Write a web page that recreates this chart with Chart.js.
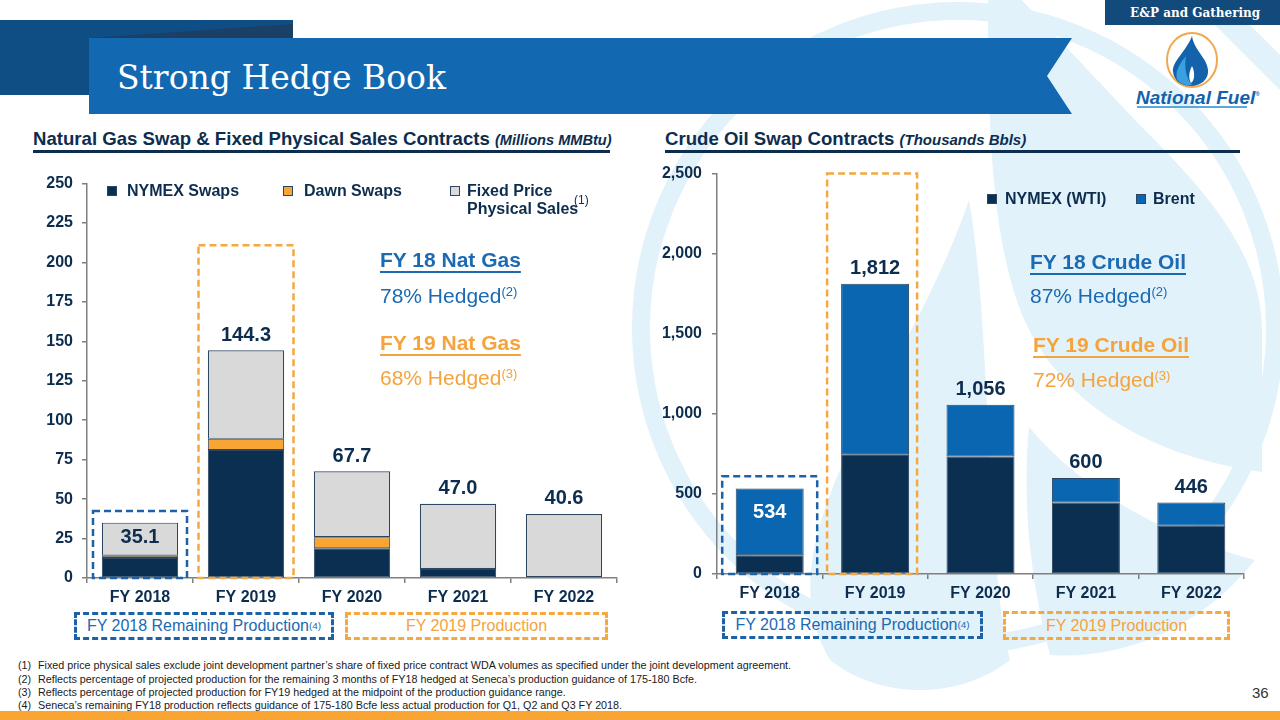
<!DOCTYPE html>
<html><head><meta charset="utf-8">
<script src="https://cdn.jsdelivr.net/npm/chart.js@4"></script>
<style>
html,body{margin:0;padding:0;}
body{width:1280px;height:720px;position:relative;overflow:hidden;background:#fff;font-family:'Liberation Sans',Arial,sans-serif;}
.abs{position:absolute;white-space:nowrap;}
.mid{transform:translateY(-50%);}
.head{font-weight:bold;font-size:18.6px;color:#0d2d4f;}
.head i{font-size:14.6px;}
.rule{position:absolute;height:3px;background:#0d2d4f;}
.leg{font-weight:bold;font-size:16px;color:#0d2d4f;}
.sw{position:absolute;width:10px;height:10px;box-sizing:border-box;border:1px solid #2d4662;}
.ann{font-size:21px;}
.annb{font-weight:bold;text-decoration:underline;text-decoration-thickness:2px;text-underline-offset:4px;}
sup{font-size:0.62em;vertical-align:0.55em;line-height:0;}
.blue{color:#1b6ab2;}
.orange{color:#f5a33c;}
.box{position:absolute;box-sizing:border-box;border:3px dashed;display:flex;align-items:center;justify-content:center;font-size:16px;white-space:nowrap;}
.bbox{border-color:#1b62a6;color:#1b6ab2;}
.obox{border-color:#f5a83f;color:#f5a33c;}
.fn{font-size:10.75px;color:#1a1a1a;}
canvas{position:absolute;}
</style></head><body>
<svg class="abs" style="left:0;top:0" width="1280" height="720">
  <!-- watermark -->
  <circle cx="958" cy="328" r="317" fill="none" stroke="#e2f2fa" stroke-width="18"/>
  <path d="M988 -5 L 1017 -5 L 1135 120 C 1200 185, 1262 250, 1262 330 L 1262 472 C 1120 452, 1045 380, 1018 304 C 992 230, 988 130, 988 -5 Z" fill="#e2f2fa"/>
  <polygon points="1215,25 1250,25 1280,55 1280,90" fill="#e2f2fa"/>
  <path d="M969 200 C 935 300, 880 380, 840 470 C 805 550, 800 610, 830 660 C 880 700, 960 700, 1010 660 C 985 560, 992 330, 969 200 Z" fill="#e2f2fa"/>
  <path d="M1029 427 C 1022 500, 1030 580, 1050 655 C 1120 660, 1200 630, 1255 560 C 1180 540, 1090 500, 1029 427 Z" fill="#e2f2fa"/>
  <!-- header -->
  <rect x="0" y="20" width="293" height="75" fill="#0f4e85"/>
  <polygon points="89,38 293,24 293,38" fill="#1c3f66"/>
  <polygon points="89,38 1072,38 1047,76 1072,114 89,114" fill="#1268b1"/>
  <rect x="1105" y="0" width="175" height="25" fill="#134a7c"/>
  <!-- logo -->
  <ellipse cx="1192" cy="60" rx="25" ry="27" fill="#fff" stroke="#f0a850" stroke-width="2"/>
  <path d="M1192 36 C 1186 52, 1172 61, 1173 72 C 1174 81, 1182 86, 1191 86 C 1201 86, 1209 79, 1208 70 C 1207 58, 1194 50, 1192 36 Z" fill="#1462ac"/>
  <path d="M1186 56 C 1179 64, 1175 72, 1177 79 C 1180 84, 1186 86, 1192 85 C 1186 78, 1184 67, 1186 56 Z" fill="#3aa0e0"/>
  <path d="M1192 66 C 1189 72, 1188 78, 1191 83 C 1195 80, 1195 72, 1192 66 Z" fill="#fff"/>
  <rect x="1137" y="106" width="110" height="2" fill="#5aa8dc"/>
  <rect x="0" y="711" width="1280" height="9" fill="#f9a533"/>
</svg>

<div class="abs mid" style="left:117px;top:77px;font-family:'DejaVu Serif',serif;font-size:33px;color:#fff;">Strong Hedge Book</div>
<div class="abs mid" style="left:1130px;top:13px;font-family:'DejaVu Serif',serif;font-weight:bold;font-size:12px;color:#fff;">E&amp;P and Gathering</div>
<div class="abs mid" style="left:1136px;top:98px;font-weight:bold;font-style:italic;font-size:19px;color:#1462ac;">National Fuel<span style="font-size:6px;vertical-align:8px;">®</span></div>

<div class="abs mid head" style="left:33px;top:139px;">Natural Gas Swap &amp; Fixed Physical Sales Contracts <i>(Millions MMBtu)</i></div>
<div class="rule" style="left:33px;top:150px;width:577px;"></div>
<div class="abs mid head" style="left:665px;top:139px;">Crude Oil Swap Contracts <i style="font-size:15px;">(Thousands Bbls)</i></div>
<div class="rule" style="left:665px;top:150px;width:575px;"></div>

<canvas id="gas" width="600" height="446" style="left:30px;top:165px;"></canvas>
<canvas id="oil" width="600" height="446" style="left:650px;top:154px;"></canvas>

<!-- left legend -->
<div class="sw" style="left:107px;top:186px;background:#0b2f50;"></div>
<div class="abs mid leg" style="left:127px;top:191px;">NYMEX Swaps</div>
<div class="sw" style="left:283px;top:186px;background:#f9a533;"></div>
<div class="abs mid leg" style="left:304px;top:191px;">Dawn Swaps</div>
<div class="sw" style="left:450px;top:186px;background:#d9d9d9;"></div>
<div class="abs mid leg" style="left:467px;top:191px;">Fixed Price</div>
<div class="abs mid leg" style="left:467px;top:209px;">Physical Sales</div>
<div class="abs mid" style="left:574px;top:200px;font-size:12px;color:#0d2d4f;">(1)</div>
<!-- right legend -->
<div class="sw" style="left:987px;top:194px;background:#0b2f50;"></div>
<div class="abs mid leg" style="left:1005px;top:199px;">NYMEX (WTI)</div>
<div class="sw" style="left:1136px;top:194px;background:#0a66b0;"></div>
<div class="abs mid leg" style="left:1153px;top:199px;">Brent</div>

<!-- annotations -->
<div class="abs mid ann annb blue" style="left:380px;top:260px;">FY 18 Nat Gas</div>
<div class="abs mid ann blue" style="left:380px;top:296px;">78% Hedged<sup>(2)</sup></div>
<div class="abs mid ann annb orange" style="left:380px;top:343px;">FY 19 Nat Gas</div>
<div class="abs mid ann orange" style="left:380px;top:378px;">68% Hedged<sup>(3)</sup></div>
<div class="abs mid ann annb blue" style="left:1030px;top:262px;">FY 18 Crude Oil</div>
<div class="abs mid ann blue" style="left:1030px;top:296px;">87% Hedged<sup>(2)</sup></div>
<div class="abs mid ann annb orange" style="left:1033px;top:345px;">FY 19 Crude Oil</div>
<div class="abs mid ann orange" style="left:1033px;top:380px;">72% Hedged<sup>(3)</sup></div>

<!-- bottom boxes -->
<div class="box bbox" style="left:74px;top:612px;width:260px;height:28px;">FY 2018 Remaining Production<sup>(4)</sup></div>
<div class="box obox" style="left:345px;top:612px;width:263px;height:28px;">FY 2019 Production</div>
<div class="box bbox" style="left:722px;top:611px;width:261px;height:28px;">FY 2018 Remaining Production<sup>(4)</sup></div>
<div class="box obox" style="left:1003px;top:611px;width:227px;height:29px;">FY 2019 Production</div>

<!-- footnotes -->
<div class="abs mid fn" style="left:18px;top:665px;">(1)</div>
<div class="abs mid fn" style="left:38px;top:665px;">Fixed price physical sales exclude joint development partner’s share of fixed price contract WDA volumes as specified under the joint development agreement.</div>
<div class="abs mid fn" style="left:18px;top:679px;">(2)</div>
<div class="abs mid fn" style="left:38px;top:679px;">Reflects percentage of projected production for the remaining 3 months of FY18 hedged at Seneca’s production guidance of 175-180 Bcfe.</div>
<div class="abs mid fn" style="left:18px;top:692px;">(3)</div>
<div class="abs mid fn" style="left:38px;top:692px;">Reflects percentage of projected production for FY19 hedged at the midpoint of the production guidance range.</div>
<div class="abs mid fn" style="left:18px;top:705px;">(4)</div>
<div class="abs mid fn" style="left:38px;top:705px;">Seneca’s remaining FY18 production reflects guidance of 175-180 Bcfe less actual production for Q1, Q2 and Q3 FY 2018.</div>
<div class="abs mid" style="left:1252px;top:692px;font-size:15px;color:#333;">36</div>

<script>
// ---- data ----
const categories = ['FY 2018', 'FY 2019', 'FY 2020', 'FY 2021', 'FY 2022'];
const gasNymex = [12.6, 81.2, 18.8, 5.7, 0];
const gasDawn  = [1.5, 7.0, 7.0, 0, 0];
const gasFixed = [21.0, 56.1, 41.9, 41.3, 40.6];
const gasTotalLabels = ['35.1', '144.3', '67.7', '47.0', '40.6'];
const gasTicks = [0, 25, 50, 75, 100, 125, 150, 175, 200, 225, 250];
const oilWti   = [117, 747, 734, 447, 301];
const oilBrent = [417, 1065, 322, 153, 145];
const oilTotalLabels = ['534', '1,812', '1,056', '600', '446'];
const oilTicks = [0, 500, 1000, 1500, 2000, 2500];

const FONT = "'Liberation Sans', Arial, sans-serif";
const NAVY = '#0b2f50', TXT = '#0d2d4f', AXIS = '#7f7f7f', EDGE = '#2d4662';
const bw = w => (c => (c.raw === 0 ? 0 : w));

function valueLabels(labels, insideFirst, insideColor, insideOffset) {
  return {
    id: 'vl',
    afterDatasetsDraw(chart) {
      const c = chart.ctx; const n = chart.data.datasets.length;
      const y = chart.scales.y;
      c.save();
      c.font = 'bold 20px ' + FONT; c.textAlign = 'center'; c.textBaseline = 'middle';
      labels.forEach((t, i) => {
        let sum = 0; chart.data.datasets.forEach(d => sum += d.data[i]);
        const meta = chart.getDatasetMeta(n - 1).data[i];
        const top = y.getPixelForValue(sum);
        if (i === 0 && insideFirst) { c.fillStyle = insideColor; c.fillText(t, meta.x, top + insideOffset); }
        else { c.fillStyle = TXT; c.fillText(t, meta.x, top - 15); }
      });
      c.restore();
    }
  };
}
function dashedBoxes(boxes) {
  return {
    id: 'db',
    afterDatasetsDraw(chart) {
      const c = chart.ctx; const x = chart.scales.x, y = chart.scales.y;
      c.save(); c.lineWidth = 2.5; c.setLineDash([7, 4]);
      boxes.forEach(b => {
        const cx = x.getPixelForValue(b.idx) + (b.dx || 0);
        const top = b.top === 'area' ? chart.chartArea.top : y.getPixelForValue(b.top);
        const bot = y.getPixelForValue(0);
        c.strokeStyle = b.color;
        c.strokeRect(cx - b.half, top, b.half * 2, bot - top);
      });
      c.restore();
    }
  };
}
function axes(ticks, yw, xh, yPad, fmt) {
  return {
    x: { stacked: true,
      grid: { display: true, drawOnChartArea: false, drawTicks: true, tickLength: 5, color: AXIS, lineWidth: 1.5, offset: true },
      border: { color: AXIS, width: 1.5 },
      ticks: { font: { family: FONT, size: 16, weight: 'bold' }, color: TXT, padding: 5 },
      afterFit(s) { s.height = xh; } },
    y: { stacked: true, min: ticks[0], max: ticks[ticks.length - 1],
      afterBuildTicks(s) { s.ticks = ticks.map(v => ({ value: v })); },
      grid: { drawOnChartArea: false, drawTicks: true, tickLength: 5, color: AXIS, lineWidth: 1.5 },
      border: { color: AXIS, width: 1.5 },
      ticks: { font: { family: FONT, size: 16, weight: 'bold' }, color: TXT, padding: yPad, callback: fmt },
      afterFit(s) { s.width = yw; } }
  };
}

new Chart(document.getElementById('gas'), {
  type: 'bar',
  data: { labels: categories, datasets: [
    { label: 'NYMEX Swaps', data: gasNymex, backgroundColor: NAVY, borderColor: EDGE, borderWidth: bw(1), borderSkipped: false },
    { label: 'Dawn Swaps', data: gasDawn, backgroundColor: '#f9a533', borderColor: EDGE, borderWidth: bw(1), borderSkipped: false },
    { label: 'Fixed Price Physical Sales', data: gasFixed, backgroundColor: '#d9d9d9', borderColor: EDGE, borderWidth: bw(1.2), borderSkipped: false }
  ]},
  options: {
    responsive: false, animation: false,
    categoryPercentage: 1, barPercentage: 0.72,
    layout: { padding: { left: 0, right: 13, top: 0, bottom: 0 } },
    plugins: { legend: { display: false }, tooltip: { enabled: false } },
    scales: axes(gasTicks, 57, 33, 9, v => v)
  },
  plugins: [dashedBoxes([
    { idx: 0, half: 47, top: 42.5, color: '#1b62a6' },
    { idx: 1, half: 47.5, top: 211, color: '#f5a83f' }
  ]), valueLabels(gasTotalLabels, true, TXT, 15)]
});

new Chart(document.getElementById('oil'), {
  type: 'bar',
  data: { labels: categories, datasets: [
    { label: 'NYMEX (WTI)', data: oilWti, backgroundColor: NAVY, borderColor: EDGE, borderWidth: bw(1), borderSkipped: false },
    { label: 'Brent', data: oilBrent, backgroundColor: '#0a66b0', borderColor: EDGE, borderWidth: bw(1), borderSkipped: false }
  ]},
  options: {
    responsive: false, animation: false,
    categoryPercentage: 1, barPercentage: 0.645,
    layout: { padding: { left: 0, right: 6, top: 0, bottom: 0 } },
    plugins: { legend: { display: false }, tooltip: { enabled: false } },
    scales: axes(oilTicks, 67, 26, 10, v => v.toLocaleString('en-US'))
  },
  plugins: [dashedBoxes([
    { idx: 0, half: 47.5, top: 611, color: '#1b62a6' },
    { idx: 1, half: 45, dx: -3, top: 'area', color: '#f5a83f' }
  ]), valueLabels(oilTotalLabels, true, '#ffffff', 24)]
});
</script>
</body></html>
